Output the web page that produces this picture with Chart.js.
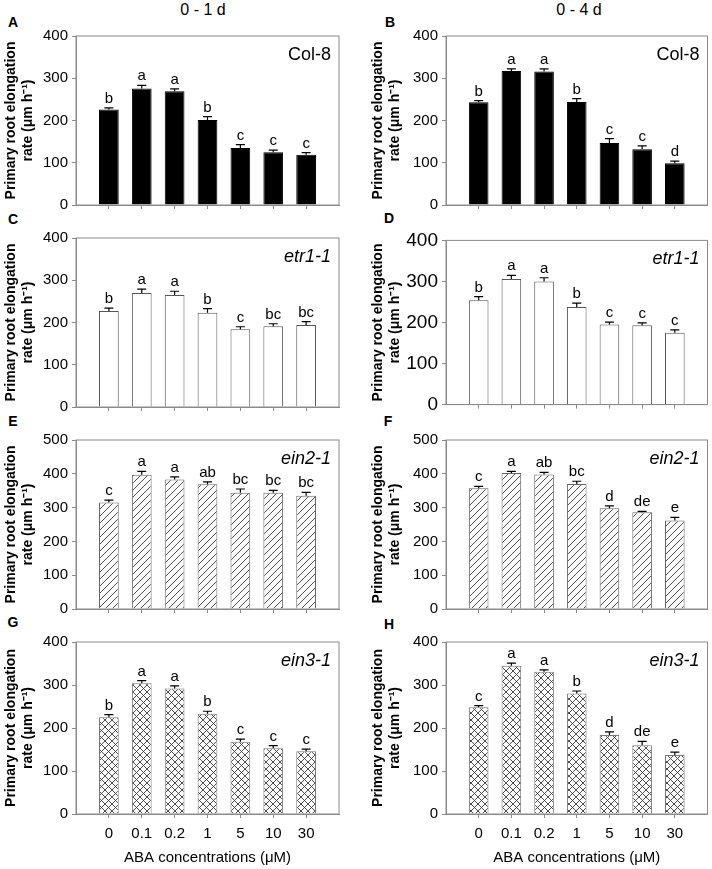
<!DOCTYPE html>
<html>
<head>
<meta charset="utf-8">
<script src="https://cdn.jsdelivr.net/npm/chart.js@4.4.1/dist/chart.umd.min.js"></script>
<style>
  body { margin: 0; background: #fff; width: 712px; height: 869px; position: relative; overflow: hidden;
         font-family: "Liberation Sans", Arial, sans-serif; }
  canvas { position: absolute; }
  .lbl { position: absolute; transform: translate(-50%, -50%); white-space: nowrap; color: #000; line-height: 1; }
  .panel { font-weight: bold; font-size: 14px; }
  .coltitle { font-size: 16px; }
</style>
</head>
<body>
<div class="lbl coltitle" style="left:203px; top:10px">0 - 1 d</div>
<div class="lbl coltitle" style="left:579px; top:10px">0 - 4 d</div>
<div class="lbl panel" style="left:13px; top:22px">A</div>
<div class="lbl panel" style="left:390px; top:22px">B</div>
<div class="lbl panel" style="left:13px; top:219px">C</div>
<div class="lbl panel" style="left:389px; top:218px">D</div>
<div class="lbl panel" style="left:13px; top:421px">E</div>
<div class="lbl panel" style="left:388px; top:421px">F</div>
<div class="lbl panel" style="left:13px; top:622px">G</div>
<div class="lbl panel" style="left:389px; top:624px">H</div>
<script>
// ABA concentrations (uM)
const categories = ['0', '0.1', '0.2', '1', '5', '10', '30'];

// Col-8
const col8Day1 = [226, 276, 269, 201, 135, 125, 119];
const col8Day1Err = [4, 7, 6, 8, 8, 5, 5];
const col8Day1Sig = ['b', 'a', 'a', 'b', 'c', 'c', 'c'];
const col8Day4 = [243, 317, 316, 244, 147, 132, 99];
const col8Day4Err = [4, 5, 6, 8, 10, 8, 5];
const col8Day4Sig = ['b', 'a', 'a', 'b', 'c', 'c', 'd'];

// etr1-1
const etrDay1 = [227, 270, 265, 223, 184, 191, 194];
const etrDay1Err = [7, 9, 9, 10, 6, 6, 8];
const etrDay1Sig = ['b', 'a', 'a', 'b', 'c', 'bc', 'bc'];
const etrDay4 = [254, 306, 300, 238, 195, 193, 175];
const etrDay4Err = [9, 9, 9, 9, 6, 6, 7];
const etrDay4Sig = ['b', 'a', 'a', 'b', 'c', 'c', 'c'];

// ein2-1
const ein2Day1 = [315, 397, 383, 369, 344, 344, 335];
const ein2Day1Err = [7, 10, 8, 7, 11, 7, 10];
const ein2Day1Sig = ['c', 'a', 'a', 'ab', 'bc', 'bc', 'bc'];
const ein2Day4 = [357, 402, 398, 370, 298, 286, 262];
const ein2Day4Err = [6, 5, 6, 8, 7, 3, 9];
const ein2Day4Sig = ['c', 'a', 'ab', 'bc', 'd', 'de', 'e'];

// ein3-1
const ein3Day1 = [225, 304, 292, 233, 168, 153, 146];
const ein3Day1Err = [6, 6, 6, 6, 6, 6, 5];
const ein3Day1Sig = ['b', 'a', 'a', 'b', 'c', 'c', 'c'];
const ein3Day4 = [248, 345, 331, 280, 184, 160, 137];
const ein3Day4Err = [4, 6, 4, 6, 7, 9, 7];
const ein3Day4Sig = ['c', 'a', 'a', 'b', 'd', 'de', 'e'];

const FONT = '"Liberation Sans", Arial, sans-serif';
const AXIS = '#8a8a8a';
Chart.defaults.font.family = FONT;
Chart.defaults.color = '#000';

// layout of the 4x2 grid
const COLS = [
    { left: 0, width: 350, yAxisW: 76, rightPad: 11, titlePad: 3 },
    { left: 352, width: 360, yAxisW: 94, rightPad: 4.5, titlePad: 18 }
];
const ROWS = [
    { top: 31, bottom: 208 },
    { top: 233, bottom: 410 },
    { top: 435, bottom: 612 },
    { top: 637, bottom: 814 }
];

function makePattern(cross) {
    const s = 7;
    const c = document.createElement('canvas');
    c.width = s; c.height = s;
    const g = c.getContext('2d');
    g.fillStyle = '#fff';
    g.fillRect(0, 0, s, s);
    g.strokeStyle = '#3a3a3a';
    g.lineWidth = 0.9;
    g.beginPath();
    for (const o of [-s, 0, s]) {
        g.moveTo(o - 1, s + 1); g.lineTo(s + 1 + o, -1);
        if (cross) { g.moveTo(-1, o - 1); g.lineTo(s + 1, s + 1 + o); }
    }
    g.stroke();
    return g.createPattern(c, 'repeat');
}

const panels = [
    { row: 0, col: 0, name: 'Col-8', italic: false, max: 400, values: col8Day1, errors: col8Day1Err, sig: col8Day1Sig, fill: '#000', border: '#000' },
    { row: 0, col: 1, name: 'Col-8', italic: false, max: 400, values: col8Day4, errors: col8Day4Err, sig: col8Day4Sig, fill: '#000', border: '#000' },
    { row: 1, col: 0, name: 'etr1-1', italic: true, max: 400, values: etrDay1, errors: etrDay1Err, sig: etrDay1Sig, fill: '#fff', border: '#555' },
    { row: 1, col: 1, name: 'etr1-1', italic: true, max: 400, values: etrDay4, errors: etrDay4Err, sig: etrDay4Sig, fill: '#fff', border: '#555', tickSize: 19 },
    { row: 2, col: 0, name: 'ein2-1', italic: true, max: 500, values: ein2Day1, errors: ein2Day1Err, sig: ein2Day1Sig, fill: makePattern(false), border: '#666' },
    { row: 2, col: 1, name: 'ein2-1', italic: true, max: 500, values: ein2Day4, errors: ein2Day4Err, sig: ein2Day4Sig, fill: makePattern(false), border: '#666' },
    { row: 3, col: 0, name: 'ein3-1', italic: true, max: 400, values: ein3Day1, errors: ein3Day1Err, sig: ein3Day1Sig, fill: makePattern(true), border: '#777' },
    { row: 3, col: 1, name: 'ein3-1', italic: true, max: 400, values: ein3Day4, errors: ein3Day4Err, sig: ein3Day4Sig, fill: makePattern(true), border: '#777' }
];

// frame, error bars, significance letters and genotype name
function annotate(p) {
    return {
        id: 'annotate',
        afterDatasetsDraw(chart) {
            const { ctx, chartArea: a, scales: { x, y } } = chart;
            ctx.save();
            ctx.strokeStyle = AXIS;
            ctx.lineWidth = 1;
            ctx.strokeRect(a.left, a.top, a.right - a.left, a.bottom - a.top);

            ctx.strokeStyle = '#000';
            ctx.lineWidth = 1.2;
            ctx.fillStyle = '#000';
            ctx.font = '15px ' + FONT;
            ctx.textAlign = 'center';
            ctx.textBaseline = 'alphabetic';
            p.values.forEach((v, i) => {
                const px = x.getPixelForValue(i);
                const y0 = y.getPixelForValue(v);
                const y1 = y.getPixelForValue(v + p.errors[i]);
                ctx.beginPath();
                ctx.moveTo(px, y0); ctx.lineTo(px, y1);
                ctx.moveTo(px - 4.5, y1); ctx.lineTo(px + 4.5, y1);
                ctx.stroke();
                ctx.fillText(p.sig[i], px, y1 - 5);
            });

            ctx.font = (p.italic ? 'italic ' : '') + '18px ' + FONT;
            ctx.textAlign = 'right';
            ctx.textBaseline = 'middle';
            ctx.fillText(p.name, a.right - 8, a.top + 19);
            ctx.restore();
        }
    };
}

panels.forEach(p => {
    const col = COLS[p.col], row = ROWS[p.row];
    const bottomRow = p.row === 3;
    const top = row.top - 8;
    const height = bottomRow ? 869 - top : row.bottom + 10 - top;
    const canvas = document.createElement('canvas');
    canvas.width = col.width;
    canvas.height = height;
    canvas.style.left = col.left + 'px';
    canvas.style.top = top + 'px';
    document.body.appendChild(canvas);

    new Chart(canvas, {
        type: 'bar',
        data: {
            labels: categories.map((c, i) => i),
            datasets: [{
                data: p.values,
                backgroundColor: p.fill,
                borderColor: p.border,
                borderWidth: 1,
                barPercentage: 0.6,
                categoryPercentage: 1
            }]
        },
        options: {
            responsive: false,
            animation: false,
            layout: { padding: { left: 0, right: col.rightPad, top: 8, bottom: 0 } },
            plugins: { legend: { display: false }, tooltip: { enabled: false } },
            scales: {
                x: {
                    type: 'linear',
                    min: -1,
                    max: 7,
                    offset: false,
                    afterBuildTicks: axis => { axis.ticks = axis.ticks.filter(t => t.value >= 0 && t.value <= 6); },
                    afterFit: axis => { axis.height = bottomRow ? 55 : 10; },
                    border: { color: AXIS, width: 1 },
                    grid: { drawOnChartArea: false, offset: false, color: AXIS, tickLength: 4 },
                    ticks: {
                        stepSize: 1,
                        padding: 7,
                        font: { size: 15 },
                        callback: v => bottomRow ? categories[v] : ''
                    },
                    title: {
                        display: bottomRow,
                        text: 'ABA concentrations (\u03bcM)',
                        font: { size: 15 },
                        padding: { top: 0, bottom: 2 }
                    }
                },
                y: {
                    min: 0,
                    max: p.max,
                    afterFit: axis => { axis.width = col.yAxisW; },
                    border: { color: AXIS, width: 1 },
                    grid: { drawOnChartArea: false, color: AXIS, tickLength: 4 },
                    ticks: { stepSize: 100, padding: 4, font: { size: p.tickSize || 15 } },
                    title: {
                        display: true,
                        text: ['Primary root elongation', 'rate (\u03bcm h\u207b\u00b9)'],
                        font: { size: 14, weight: 'bold', lineHeight: 1.2 },
                        padding: { top: col.titlePad, bottom: 0 }
                    }
                }
            }
        },
        plugins: [annotate(p)]
    });
});
</script>
</body>
</html>
